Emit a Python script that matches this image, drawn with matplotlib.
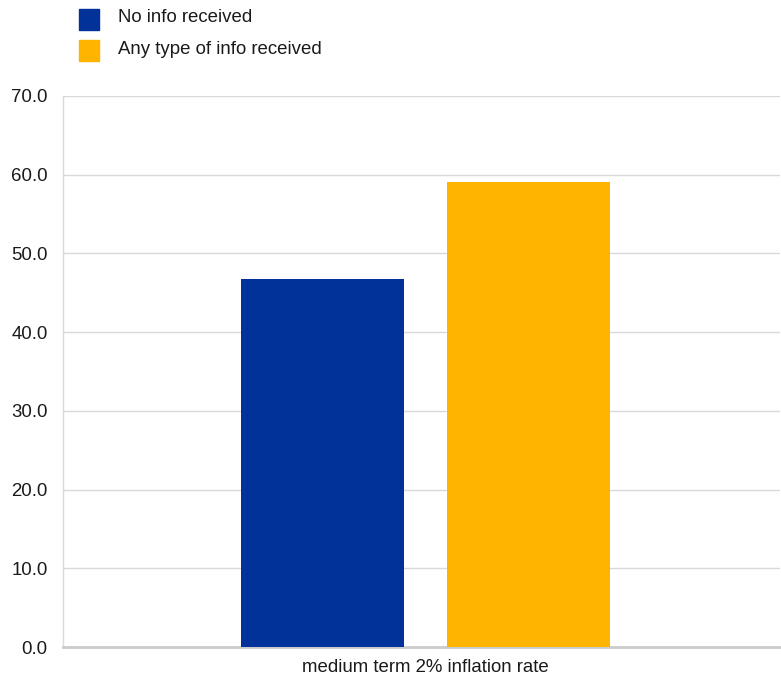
import matplotlib.pyplot as plt
from matplotlib.patches import Rectangle

plt.rcParams['font.family'] = ['Liberation Sans', 'DejaVu Sans']

# survey results
categories = ["medium term 2% inflation rate"]
series_names = ["No info received", "Any type of info received"]
no_info = [46.8]
any_info = [59.1]
colors = ["#003299", "#ffb400"]

FS = 13.4
W, H = 781, 677
fig = plt.figure(figsize=(W / 100, H / 100), dpi=100)
ax = fig.add_axes([63 / W, 30 / H, 717 / W, 551 / H])

x = list(range(len(categories)))
width = 0.225
offset = 0.142
ax.bar([i - offset for i in x], no_info, width, color=colors[0], zorder=3)
ax.bar([i + offset for i in x], any_info, width, color=colors[1], zorder=3)

ax.set_xlim(-0.5, 0.489)
ax.set_ylim(0, 70)
ax.set_yticks(range(0, 71, 10))
ax.set_yticklabels([f"{v:.1f}" for v in range(0, 71, 10)], fontsize=FS, color="#1a1a1a")
ax.set_xticks(x)
ax.set_xticklabels(categories, fontsize=FS, color="#1a1a1a")
ax.tick_params(axis="y", length=0, pad=11)
ax.tick_params(axis="x", length=0, pad=9)

ax.grid(axis="y", color="#d9d9d9", linewidth=1, zorder=0)
for side in ["top", "right"]:
    ax.spines[side].set_visible(False)
ax.spines["left"].set_color("#d9d9d9")
ax.spines["left"].set_linewidth(1)
ax.spines["bottom"].set_color("#cccccc")
ax.spines["bottom"].set_linewidth(2)

# legend drawn as squares with labels above the plot
for k, (name, c) in enumerate(zip(series_names, colors)):
    y_top = 9 + k * 31
    fig.add_artist(Rectangle((79 / W, 1 - (y_top + 21) / H), 20 / W, 21 / H,
                             transform=fig.transFigure, color=c))
    fig.text(118 / W, 1 - (y_top + 9) / H, name, fontsize=FS, color="#1a1a1a",
             va="center", ha="left")

fig.savefig("out.png", dpi=100)
